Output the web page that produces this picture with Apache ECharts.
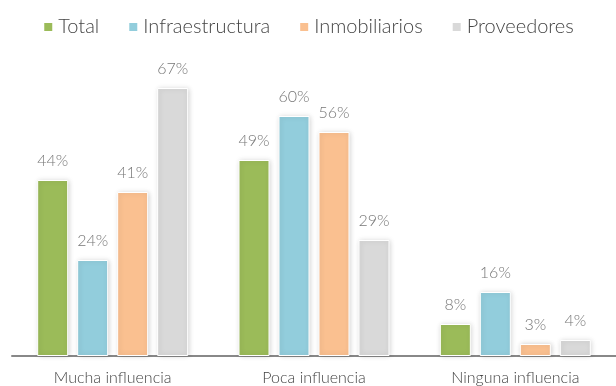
<!DOCTYPE html>
<html>
<head>
<meta charset="utf-8">
<script src="https://cdn.jsdelivr.net/npm/echarts@6/dist/echarts.min.js"></script>
<style>
  html, body { margin: 0; padding: 0; background: #fff; }
  #chart { width: 616px; height: 386px; }
</style>
</head>
<body>
<div id="chart"></div>
<script>
// Influence groups and the share (%) of each respondent segment
const categories = ['Mucha influencia', 'Poca influencia', 'Ninguna influencia'];
const seriesNames = ['Total', 'Infraestructura', 'Inmobiliarios', 'Proveedores'];
const total = [44, 49, 8];
const infraestructura = [24, 60, 16];
const inmobiliarios = [41, 56, 3];
const proveedores = [67, 29, 4];

const colors = ['#9bbb59', '#92cddc', '#fac090', '#d9d9d9'];
const values = [total, infraestructura, inmobiliarios, proveedores];
const FONT = 'Lato';

const chart = echarts.init(document.getElementById('chart'));

chart.setOption({
  animation: false,
  backgroundColor: '#ffffff',
  color: colors,
  legend: {
    top: 12,
    left: 'center',
    itemWidth: 10,
    itemHeight: 10,
    itemGap: 28,
    icon: 'rect',
    textStyle: { fontFamily: FONT, fontWeight: 300, fontSize: 20, color: '#444' },
    data: seriesNames
  },
  grid: { left: 12, right: 0, top: 80, bottom: 30, containLabel: false },
  xAxis: {
    type: 'category',
    data: categories,
    axisLine: { lineStyle: { color: '#888', width: 2 } },
    axisTick: { show: false },
    axisLabel: { fontFamily: FONT, fontWeight: 300, fontSize: 16, color: '#444', margin: 14 }
  },
  yAxis: {
    type: 'value',
    min: 0,
    max: 69,
    show: false,
    splitLine: { show: false }
  },
  series: seriesNames.map((name, i) => ({
    name,
    type: 'bar',
    data: values[i],
    barWidth: 31,
    barGap: '29%',
    itemStyle: {
      color: colors[i],
      borderColor: '#ffffff',
      borderWidth: 1,
      shadowColor: 'rgba(0,0,0,0.18)',
      shadowBlur: 5,
      shadowOffsetX: 1,
      shadowOffsetY: 0
    },
    label: {
      show: true,
      position: 'top',
      distance: 11,
      formatter: '{c}%',
      fontFamily: FONT,
      fontWeight: 300,
      fontSize: 16,
      color: '#777'
    }
  }))
});
</script>
</body>
</html>
